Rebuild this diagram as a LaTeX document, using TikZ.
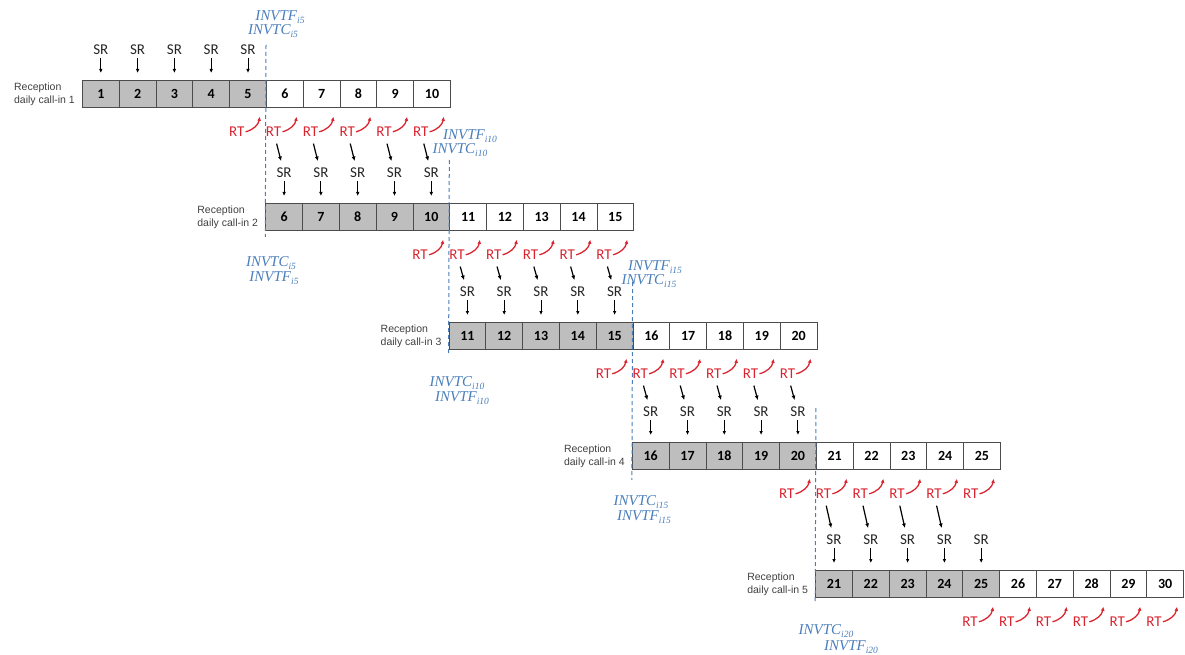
\documentclass[tikz,border=0pt]{standalone}
\usepackage{fontspec}
\setmainfont{Carlito}
\newfontfamily\recfont{Liberation Sans}
\newfontfamily\invfont{Liberation Serif}
\usetikzlibrary{arrows.meta}
\definecolor{cellgray}{RGB}{190,190,190}
\definecolor{rtred}{RGB}{218,37,48}
\definecolor{invblue}{RGB}{74,126,187}
\newcommand{\isub}[1]{\raisebox{-0.35ex}{\fontsize{9.5}{9.5}\selectfont\itshape i#1}}
\tikzset{
  cell/.style={draw=black!70, line width=0.8pt, minimum width=36.8pt, minimum height=27pt,
    inner sep=0pt, anchor=north west, font=\fontsize{14}{14}\selectfont\bfseries},
  reclab/.style={anchor=east, align=left, inner sep=0pt, text=black!75,
    font=\recfont\fontsize{10.5}{13}\selectfont},
  srlab/.style={inner sep=1pt, text=black!85, font=\fontsize{15}{15}\selectfont},
  rtlab/.style={inner sep=1pt, text=rtred, font=\fontsize{15}{15}\selectfont},
  invlab/.style={inner sep=0pt, text=invblue, font=\invfont\fontsize{15}{15}\selectfont\itshape},
  srarr/.style={-{Latex[length=4pt,width=3.6pt]}, line width=1pt, shorten <=2pt, shorten >=7pt},
  slarr/.style={-{Latex[length=4.5pt,width=4pt]}, line width=1.2pt, shorten <=6pt, shorten >=6pt},
  rtarr/.style={-{Latex[length=4pt,width=4pt]}, rtred, line width=1.3pt},
  invline/.style={invblue, line width=1pt, dash pattern=on 4pt off 3pt}
}
\begin{document}
\begin{tikzpicture}[x=1pt,y=-1pt]
\useasboundingbox (0,0) rectangle (1185,655);
% boxes of the five call-ins
\foreach \r/\yy in {1/80,2/203,3/322,4/442,5/570} % edit here for the rows
{
  \foreach \k in {1,...,10}
  {
    \pgfmathtruncatemacro{\n}{5*(\r-1)+\k}
    \ifnum\k<6 \def\fillc{cellgray}\else\def\fillc{white}\fi
    \node[cell, fill=\fillc] (b\r-\n) at ({82+183.3*(\r-1)+36.8*(\k-1)},\yy) {\n};
  }
  \pgfmathtruncatemacro{\m}{5*(\r-1)+1}
  \node[reclab] (lab\r) at ([xshift=-7pt]b\r-\m.west) {Reception\\daily call-in \r};
  % SR above the grey boxes
  \foreach \k in {1,...,5}
  {
    \pgfmathtruncatemacro{\n}{5*(\r-1)+\k}
    \node[srlab] (s\r-\n) at ([yshift=30pt]b\r-\n.north) {SR};
    \draw[srarr] (s\r-\n) -- (b\r-\n);
  }
  % RT below boxes 5 to 10
  \foreach \k in {5,...,10}
  {
    \pgfmathtruncatemacro{\n}{5*(\r-1)+\k}
    \node[rtlab] (rt\r-\n) at ([xshift=-30pt,yshift=-24pt]b\r-\n.south east) {RT};
    \coordinate (tip\r-\n) at ([xshift=-7pt,yshift=-9pt]b\r-\n.south east);
    \draw[rtarr] (rt\r-\n.east) to[out=15,in=-100] (tip\r-\n);
  }
}
% RT of one call-in goes to SR of the next
\foreach \r in {1,...,4}
{
  \pgfmathtruncatemacro{\rr}{\r+1}
  \foreach \k in {6,...,10}
  {
    \pgfmathtruncatemacro{\n}{5*(\r-1)+\k}
    \ifnum\n=25 \else \draw[slarr] (rt\r-\n) -- (s\rr-\n); \fi
  }
}
% dashed lines between call-ins
\foreach \r/\a/\b in {1/35/6,2/43/6,3/40/10,4/34/6}
{
  \pgfmathtruncatemacro{\m}{5*\r+1}
  \pgfmathtruncatemacro{\rr}{\r+1}
  \draw[invline] ([yshift=\a pt]b\r-\m.north west) -- ([yshift=-\b pt]b\rr-\m.south west);
}
% inventory labels
\foreach \x/\y/\a/\s [count=\i] in {280/17/F/5, 273/31/C/5, 470/136/F/10, 460/150/C/10,
  655/267/F/15, 649/281/C/15, 271/263/C/5, 274/278/F/5, 457/383/C/10, 462/398/F/10,
  641/502/C/15, 644/517/F/15, 826/631/C/20, 851/647/F/20}
  \node[invlab] (inv\i) at (\x,\y) {INVT\a\isub{\s}};
\end{tikzpicture}
\end{document}
